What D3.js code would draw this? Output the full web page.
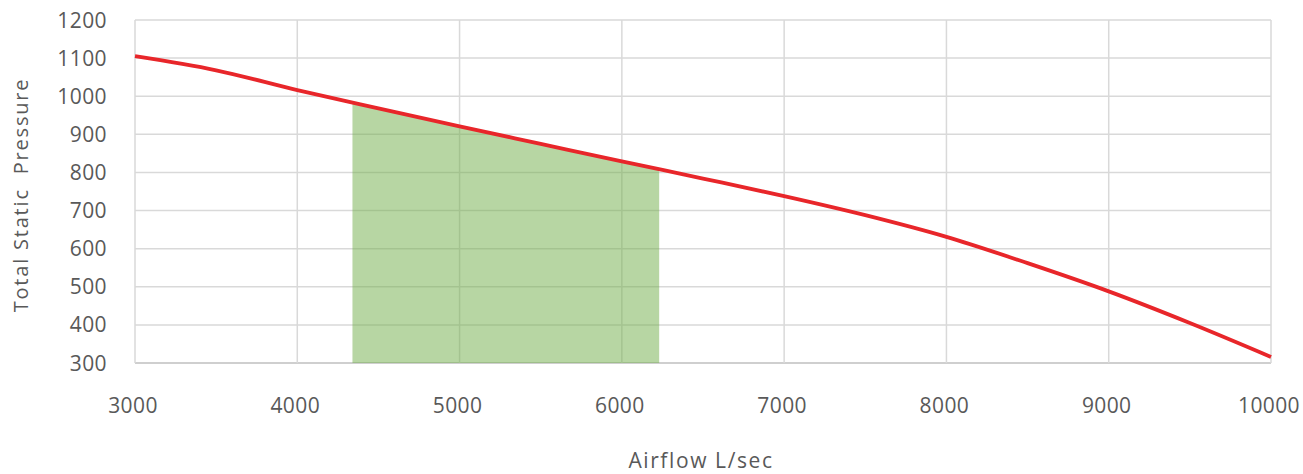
<!DOCTYPE html>
<html><head><meta charset="utf-8">
<script src="https://cdn.jsdelivr.net/npm/d3@7"></script>
<style>body{margin:0;background:#fff}svg{display:block}text{font-family:"Open Sans",sans-serif;fill:#595959}</style>
</head><body><svg id="c" width="1303" height="474"></svg>
<script>
const airflow = [3000,3500,4000,4500,5000,5500,6000,6500,7000,7500,8000,8500,9000,9500,10000];
const pressure = [1105,1068,1016,968,921,875,829,784,738,688,631,562,488,405,316];
const shadeRange = [4340,6230];
const xTicks = [3000,4000,5000,6000,7000,8000,9000,10000];
const yTicks = [300,400,500,600,700,800,900,1000,1100,1200];

const svg = d3.select("#c");
const m = {l:135, r:1271, t:20, b:363};
const x = d3.scaleLinear().domain([3000,10000]).range([m.l,m.r]);
const y = d3.scaleLinear().domain([300,1200]).range([m.b,m.t]);
const pts = airflow.map((a,i)=>[a,pressure[i]]);

// grid
svg.append("g").selectAll("line").data(yTicks).join("line")
  .attr("x1",m.l).attr("x2",m.r).attr("y1",d=>y(d)).attr("y2",d=>y(d))
  .attr("stroke",d=>d===300?"#bfbfbf":"#d9d9d9").attr("stroke-width",1.5);
svg.append("g").selectAll("line").data(xTicks).join("line")
  .attr("y1",m.t).attr("y2",m.b).attr("x1",d=>x(d)).attr("x2",d=>x(d))
  .attr("stroke","#d9d9d9").attr("stroke-width",1.5);

// shaded area
svg.append("clipPath").attr("id","clip").append("rect")
  .attr("x",x(shadeRange[0])).attr("width",x(shadeRange[1])-x(shadeRange[0]))
  .attr("y",m.t).attr("height",m.b-m.t);
const curve = d3.curveMonotoneX;
svg.append("path").datum(pts).attr("clip-path","url(#clip)")
  .attr("fill","rgba(112,173,71,0.5)")
  .attr("d",d3.area().x(d=>x(d[0])).y0(y(300)).y1(d=>y(d[1])).curve(curve));

// line
svg.append("path").datum(pts).attr("fill","none").attr("stroke","#e8262a").attr("stroke-width",3.8)
  .attr("stroke-linejoin","round")
  .attr("d",d3.line().x(d=>x(d[0])).y(d=>y(d[1])).curve(curve));

// tick labels
svg.append("g").selectAll("text").data(yTicks).join("text")
  .attr("x",107).attr("y",d=>y(d)).attr("dy","0.36em").attr("text-anchor","end")
  .attr("font-size",21).attr("letter-spacing",0.4).text(d=>d);
svg.append("g").selectAll("text").data(xTicks).join("text")
  .attr("x",d=>x(d)-2).attr("y",413).attr("text-anchor","middle")
  .attr("font-size",21).attr("letter-spacing",0.4).text(d=>d);

// titles
svg.append("text").attr("x",701).attr("y",468).attr("text-anchor","middle").attr("font-size",21)
  .attr("letter-spacing",1.6).attr("xml:space","preserve").text("Airflow L/sec");
svg.append("text").attr("transform","translate(28,195) rotate(-90)").attr("text-anchor","middle")
  .attr("font-size",20).attr("letter-spacing",1.8).attr("xml:space","preserve").text("Total Static  Pressure");
</script></body></html>
